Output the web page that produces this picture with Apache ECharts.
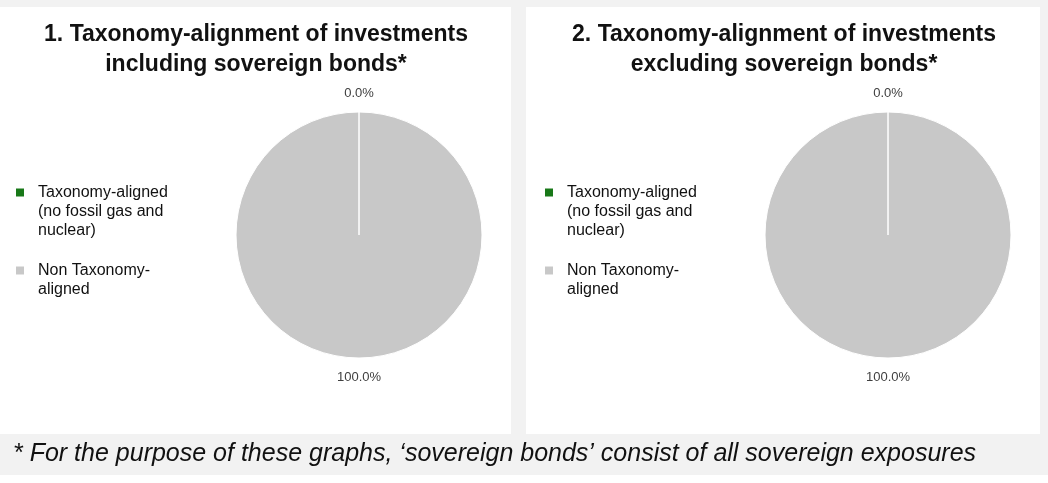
<!DOCTYPE html>
<html>
<head>
<meta charset="utf-8">
<script src="https://cdn.jsdelivr.net/npm/echarts@6/dist/echarts.min.js"></script>
<style>
html,body{margin:0;padding:0;background:#ffffff;}
#main{width:1048px;height:483px;}
</style>
</head>
<body>
<div id="main"></div>
<script>
// ---- data ----
const categories = ['Taxonomy-aligned (no fossil gas and nuclear)', 'Non Taxonomy-aligned'];
const legendLines = [['Taxonomy-aligned', '(no fossil gas and', 'nuclear)'], ['Non Taxonomy-', 'aligned']];
const inclSovereignBonds = [0.0, 100.0];
const exclSovereignBonds = [0.0, 100.0];
const chartTitles = [
  '1. Taxonomy-alignment of investments\nincluding sovereign bonds*',
  '2. Taxonomy-alignment of investments\nexcluding sovereign bonds*'
];
const footnote = '* For the purpose of these graphs, \u2018sovereign bonds\u2019 consist of all sovereign exposures';
const sliceColors = ['#187818', '#c8c8c8'];

// ---- layout ----
const FONT = 'Liberation Sans, Arial, sans-serif';
const panels = [
  {x: 0, w: 511, titleX: 256, pieX: 359, legendX: 14},
  {x: 526, w: 514, titleX: 784, pieX: 888, legendX: 543}
];
const seriesValues = [inclSovereignBonds, exclSovereignBonds];

const legendFormatter = function (name) {
  const i = categories.indexOf(name);
  const lines = legendLines[i];
  return '\n'.repeat(lines.length - 1) + lines.join('\n');
};

// Slices are drawn in reverse order so that the (zero-width) slice border
// is painted on top of the full slice, as in the original chart.
function pieData(values) {
  return categories
    .map((c, k) => ({name: c, value: values[k], itemStyle: {color: sliceColors[k]}}))
    .reverse();
}

const option = {
  animation: false,
  color: sliceColors,
  graphic: [
    {type: 'rect', z: -10, silent: true, shape: {x: 0, y: 0, width: 1048, height: 475}, style: {fill: '#f2f2f2'}},
    ...panels.map(p => ({type: 'rect', z: -9, silent: true, shape: {x: p.x, y: 7, width: p.w, height: 427}, style: {fill: '#ffffff'}}))
  ],
  title: [
    ...panels.map((p, i) => ({
      text: chartTitles[i],
      left: p.titleX,
      top: 20,
      padding: 0,
      textAlign: 'center',
      textStyle: {fontFamily: FONT, fontSize: 23, fontWeight: 'bold', color: '#111111', lineHeight: 30}
    })),
    {
      text: footnote,
      left: 13,
      top: 439,
      padding: 0,
      textStyle: {fontFamily: FONT, fontSize: 25, fontStyle: 'italic', fontWeight: 'normal', color: '#111111', lineHeight: 30}
    }
  ],
  legend: panels.map((p, i) => ({
    orient: 'vertical',
    left: p.legendX,
    top: 145,
    padding: 0,
    itemGap: 2,
    itemWidth: 10,
    itemHeight: 10,
    icon: 'rect',
    selectedMode: false,
    data: categories.map((c, k) => ({name: c, itemStyle: {color: sliceColors[k]}})),
    formatter: legendFormatter,
    textStyle: {fontFamily: FONT, fontSize: 16, color: '#111111', lineHeight: 19, padding: [0, 0, 0, 8]}
  })),
  series: panels.map((p, i) => ({
    type: 'pie',
    center: [p.pieX, 235],
    radius: 123,
    startAngle: 90,
    clockwise: true,
    avoidLabelOverlap: false,
    minShowLabelAngle: 0,
    silent: true,
    itemStyle: {borderColor: '#ffffff', borderWidth: 1},
    emphasis: {disabled: true},
    label: {
      show: true,
      position: 'outside',
      distanceToLabelLine: 0,
      fontFamily: FONT,
      fontSize: 13,
      color: '#404040',
      formatter: function (prm) { return prm.value.toFixed(1) + '%'; }
    },
    labelLine: {show: false, length: 19, length2: 0},
    labelLayout: {align: 'center'},
    data: pieData(seriesValues[i])
  }))
};

const chart = echarts.init(document.getElementById('main'), null, {renderer: 'canvas'});
chart.setOption(option);
</script>
</body>
</html>
